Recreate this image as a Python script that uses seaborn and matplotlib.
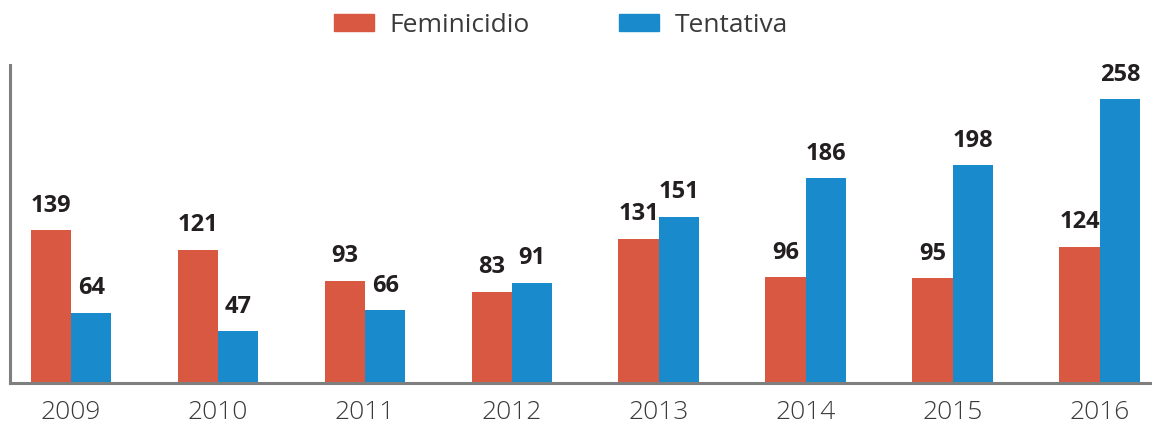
import pandas as pd
import matplotlib.pyplot as plt
import seaborn as sns

years = ["2009", "2010", "2011", "2012", "2013", "2014", "2015", "2016"]
feminicidio = [139, 121, 93, 83, 131, 96, 95, 124]
tentativa = [64, 47, 66, 91, 151, 186, 198, 258]
series = ["Feminicidio", "Tentativa"]
colors = ["#D95841", "#198BCC"]

df = pd.DataFrame({
    "year": years * 2,
    "value": feminicidio + tentativa,
    "serie": [series[0]] * len(years) + [series[1]] * len(years),
})

sns.set_style("white")
plt.rcParams["font.family"] = ["Open Sans", "DejaVu Sans"]

fig = plt.figure(figsize=(11.52, 4.30), dpi=100)
ax = fig.add_axes([10 / 1152, 47 / 430, 1 - 10 / 1152, 318 / 430])

sns.barplot(data=df, x="year", y="value", hue="serie", palette=colors,
            width=0.55, saturation=1, linewidth=0, ax=ax, legend=False)

for cont in ax.containers:
    labels = [f"{v:.0f}" for v in cont.datavalues]
    ax.bar_label(cont, labels=labels, padding=9, fontsize=17,
                 fontweight="bold", color="#231F20")

ax.set_xlim(-0.415, 7.355)
ax.set_ylim(0, 289)
ax.set_xlabel("")
ax.set_ylabel("")
ax.set_yticks([])
ax.tick_params(axis="x", length=0, pad=12, labelsize=19, labelcolor="#3A3A3A")
for lbl in ax.get_xticklabels():
    lbl.set_fontweight("light")

for s in ["top", "right"]:
    ax.spines[s].set_visible(False)
for s in ["left", "bottom"]:
    ax.spines[s].set_color("#7F7F7F")
    ax.spines[s].set_linewidth(2.2)

# legend at top centre
handles = [plt.Rectangle((0, 0), 1, 1, color=c) for c in colors]
fig.legend(handles, series, loc="upper center", bbox_to_anchor=(0.487, 1.025),
           ncol=2, frameon=False, fontsize=19, handlelength=1.5,
           handleheight=0.6, handletextpad=0.6, columnspacing=3.4,
           labelcolor="#3A3A3A")

fig.savefig("out.png", dpi=100)
